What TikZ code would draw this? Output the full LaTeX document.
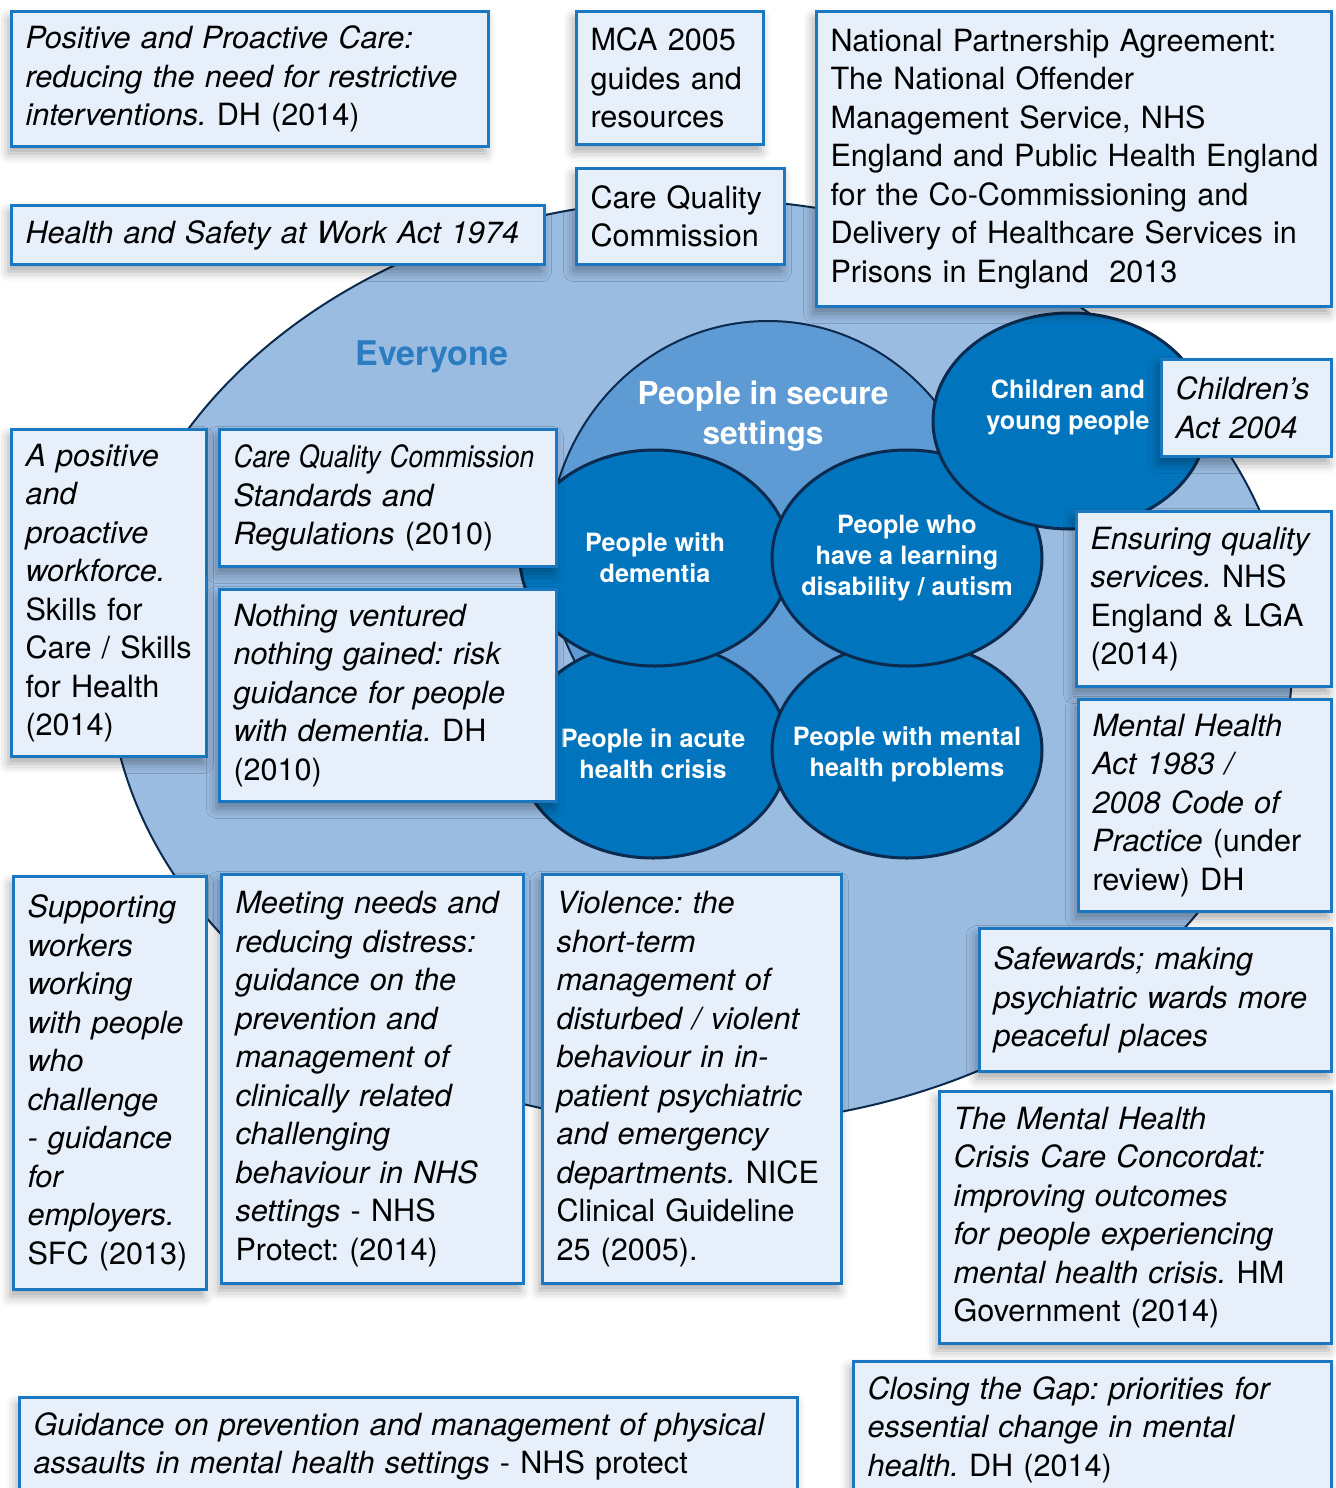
\documentclass[tikz,border=0pt]{standalone}
\usepackage{fontspec}
\setmainfont{TeX Gyre Heros}
\frenchspacing
\usetikzlibrary{shapes.geometric,positioning,shadows.blur}
\tikzset{>=latex}

\definecolor{everyfill}{HTML}{9BBCE1}
\definecolor{securefill}{HTML}{5E9BD4}
\definecolor{groupfill}{HTML}{0075BE}
\definecolor{rimline}{HTML}{0C2A4D}
\definecolor{boxfill}{HTML}{E6EFFA}
\definecolor{boxline}{HTML}{1B78C0}
\definecolor{everytext}{HTML}{2C7CC1}

\tikzset{
  refbox/.style={draw=boxline, fill=boxfill, line width=1.5pt, anchor=north west,
    align=left, inner xsep=7pt, inner ysep=0pt, font=\fontsize{15.3}{19.25}\selectfont,
    blur shadow={shadow xshift=-1.5pt, shadow yshift=-3.5pt, shadow blur radius=5pt, shadow opacity=35}},
  group/.style={ellipse, draw=rimline, line width=1.5pt, fill=groupfill, inner sep=0pt,
    minimum width=135pt, minimum height=108pt},
  grouplabel/.style={text=white, align=center, font=\bfseries\fontsize{12.6}{15.5}\selectfont}
}

\begin{document}
\begin{tikzpicture}[x=0.5pt,y=-0.5pt]
\useasboundingbox (0,0) rectangle (1336,1488);
\clip (0,0) rectangle (1336,1488);

% nested groups
\node[ellipse, draw=rimline, line width=1pt, fill=everyfill, inner sep=0pt,
  minimum width=592pt, minimum height=463pt] (everyone) at (700,662) {};
\node[ellipse, draw=rimline, line width=1pt, fill=securefill, inner sep=0pt,
  minimum width=220pt, minimum height=230pt] (secure) at (768,551) {};
\node[group] (acute) at (653,750) {};
\node[group] (mental) at (907,750) {};
\node[group] (dementia) at (655,558) {};
\node[group] (learning) at (907,558) {};
\node[group, minimum width=137pt] (children) at (1070,421) {};

\node[text=everytext, font=\bfseries\fontsize{17}{20}\selectfont] (everyonetxt) at (432,357) {Everyone};
\node[text=white, align=center, font=\bfseries\fontsize{15.8}{20}\selectfont] (securetxt) at (763,416) {People in secure\\settings};
\node[grouplabel] (dementiatxt) at (dementia.center) {People with\\dementia};
\node[grouplabel] (learningtxt) at (learning.center) {People who\\have a learning\\disability / autism};
\node[grouplabel] (acutetxt) at ([yshift=-2pt]acute.center) {People in acute\\health crisis};
\node[grouplabel] (mentaltxt) at ([yshift=-2pt]mental.center) {People with mental\\health problems};
\node[grouplabel] (childrentxt) at ([xshift=-1pt,yshift=7pt]children.center) {Children and\\young people};

% guidance boxes
\node[refbox, text width=224.5pt, minimum height=67.5pt] (pac) at (10,10)
  {\textit{Positive and Proactive Care:}\\\textit{reducing the need for restrictive}\\\textit{interventions.} DH (2014)};
\node[refbox, text width=79.5pt, minimum height=66.5pt] (mca) at (575,10)
  {MCA 2005\\guides and\\resources};
\node[refbox, text width=243.5pt, minimum height=147.5pt] (npa) at (815,10)
  {National Partnership Agreement:\\The National Offender\\Management Service, NHS\\\mbox{England and Public Health England}\\for the Co-Commissioning and\\Delivery of Healthcare Services in\\Prisons in England\ \ 2013};
\node[refbox, text width=252.5pt, minimum height=29.5pt] (hsw) at (10,204)
  {\textit{Health and Safety at Work Act 1974}};
\node[refbox, text width=90pt, minimum height=48pt] (cqc) at (575,167)
  {\mbox{Care Quality}\\Commission};
\node[refbox, text width=83.5pt, minimum height=163.5pt] (ppw) at (10,428)
  {\textit{A positive}\\\textit{and}\\\textit{proactive}\\\textit{workforce.}\\Skills for\\\mbox{Care / Skills}\\for Health\\(2014)};
\node[refbox, text width=154.5pt, minimum height=68.5pt] (cqs) at (218,428)
  {\scalebox{0.86}[1]{\textit{Care Quality Commission}}\\\textit{Standards and}\\\textit{Regulations} (2010)};
\node[refbox, text width=154.5pt, minimum height=106pt] (nvn) at (218,588)
  {\textit{Nothing ventured}\\\textit{nothing gained: risk}\\\textit{guidance for people}\\\textit{with dementia.} DH\\(2010)};
\node[refbox, text width=71pt, minimum height=48.5pt] (cha) at (1160,358)
  {\textit{Children’s}\\\textit{Act 2004}};
\node[refbox, text width=113.5pt, minimum height=87.5pt] (enq) at (1075,510)
  {\mbox{\textit{Ensuring quality}}\\\textit{services.} NHS\\England \& LGA\\(2014)};
\node[refbox, text width=112.5pt, minimum height=106pt] (mha) at (1077,698)
  {\textit{Mental Health}\\\textit{Act 1983 /}\\\textit{2008 Code of}\\\textit{Practice} (under\\review) DH};
\node[refbox, text width=162pt, minimum height=71.5pt] (saf) at (978,927)
  {\textit{Safewards; making}\\\mbox{\textit{psychiatric wards more}}\\\textit{peaceful places}};
\node[refbox, text width=82.5pt, minimum height=206.5pt] (sup) at (12,875)
  {\textit{Supporting}\\\textit{workers}\\\textit{working}\\\textit{with people}\\\textit{who}\\\textit{challenge}\\\textit{- guidance}\\\textit{for}\\\textit{employers.}\\\mbox{SFC (2013)}};
\node[refbox, text width=137pt, minimum height=204.5pt] (mnr) at (220,873)
  {\textit{Meeting needs and}\\\textit{reducing distress:}\\\textit{guidance on the}\\\textit{prevention and}\\\textit{management of}\\\textit{clinically related}\\\textit{challenging}\\\textit{behaviour in NHS}\\\textit{settings} - NHS\\Protect: (2014)};
\node[refbox, text width=135.5pt, minimum height=204.5pt] (vio) at (541,873)
  {\textit{Violence: the}\\\textit{short-term}\\\textit{management of}\\\textit{disturbed / violent}\\\textit{behaviour in in-}\\\textit{patient psychiatric}\\\textit{and emergency}\\\mbox{\textit{departments.} NICE}\\Clinical Guideline\\25 (2005).};
\node[refbox, text width=182pt, minimum height=126pt] (ccc) at (938,1090)
  {\textit{The Mental Health}\\\textit{Crisis Care Concordat:}\\\textit{improving outcomes}\\\textit{for people experiencing}\\\textit{mental health crisis.} HM\\Government (2014)};
\node[refbox, text width=225pt, minimum height=68pt] (ctg) at (852,1360)
  {\textit{Closing the Gap: priorities for}\\\textit{essential change in mental}\\\textit{health.} DH (2014)};
\node[refbox, text width=375pt, minimum height=49pt] (gpm) at (18,1396)
  {\textit{Guidance on prevention and management of physical}\\\textit{assaults in mental health settings} - NHS protect};
\end{tikzpicture}
\end{document}
